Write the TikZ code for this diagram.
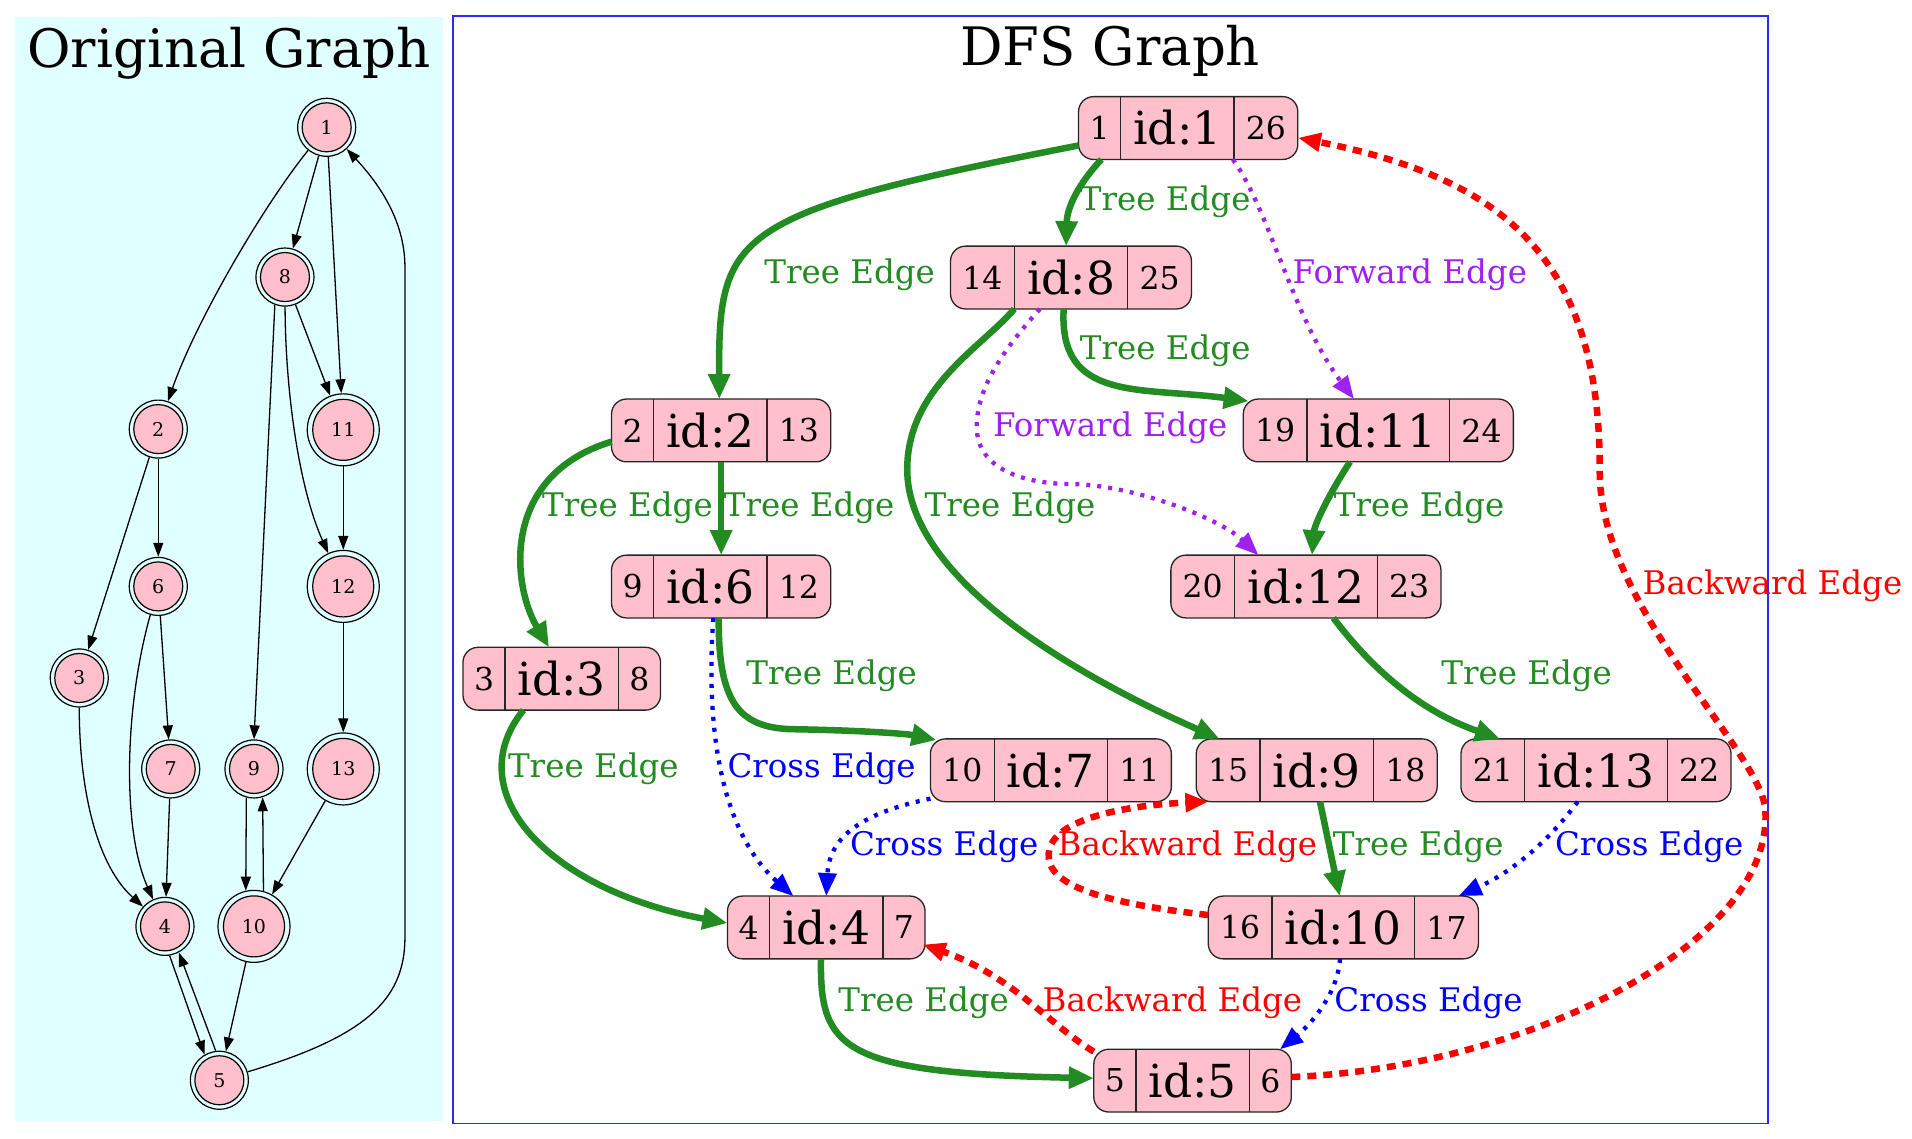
\documentclass[tikz,border=0pt]{standalone}
\usepackage{fontspec}
\setmainfont{DejaVu Serif}
\usetikzlibrary{arrows.meta}

\definecolor{treeg}{HTML}{228B22}
\definecolor{fwdp}{HTML}{A020F0}
\definecolor{crossb}{HTML}{0000FF}
\definecolor{backr}{HTML}{FF0000}
\definecolor{recpink}{HTML}{FFC0CB}
\definecolor{bgcyan}{HTML}{E0FFFF}
\definecolor{frameblue}{HTML}{2A2AFF}

\newcommand\titlefnt{\fontsize{53}{60}\selectfont}
\newcommand\lblfnt{\fontsize{32.5}{38}\selectfont}
\newcommand\smallfld{\fontsize{31.5}{36}\selectfont}
\newcommand\bigfld{\fontsize{45.5}{52}\selectfont}
\newcommand\onodefnt{\fontsize{19}{22}\selectfont}

\tikzset{
  recbox/.style={draw=black!85, line width=1.3pt, fill=recpink, rounded corners=15pt, inner sep=0pt, outer sep=0pt, minimum height=62.8pt},
  fld/.style={inner sep=0pt, outer sep=0pt, minimum height=62.8pt, font=\smallfld},
  recline/.style={draw=black!85, line width=1.3pt},
  lbl/.style={anchor=base, inner sep=0pt, font=\lblfnt},
  ttl/.style={anchor=base, inner sep=0pt, font=\titlefnt},
  treeE/.style={draw=treeg, line width=6.5pt, -{Triangle[length=25pt,width=21pt]}},
  fwdE/.style={draw=fwdp, line width=4.3pt, dash pattern=on 4pt off 7pt, -{Triangle[length=23pt,width=18pt]}},
  crossE/.style={draw=crossb, line width=4.3pt, dash pattern=on 4pt off 7pt, -{Triangle[length=23pt,width=18pt]}},
  backE/.style={draw=backr, line width=6.5pt, dash pattern=on 9pt off 7pt, -{Triangle[length=23pt,width=18pt]}},
  oE/.style={draw=black, line width=1.3pt, -{Triangle[length=14pt,width=10pt]}},
  onode/.style={circle, draw=black, line width=1.2pt, inner sep=0pt, minimum size=58pt},
  onodeL/.style={onode, minimum size=72pt},
  inode/.style={circle, draw=black, line width=1.2pt, fill=recpink, inner sep=0pt, minimum size=49pt, font=\onodefnt},
  inodeL/.style={inode, minimum size=61pt},
}

% record node: name, left x, centre y, w1, w2, w3, t1, t2, t3
\newcommand\recnode[9]{%
  \node[recbox, minimum width={(#4+#5+#6)*1.2194pt}] (#1) at ({#2+(#4+#5+#6)/2},#3) {};
  \node[fld, minimum width={#4*1.2194pt}] (#1a) at ({#2+#4/2},#3) {#7};
  \node[fld, font=\bigfld, minimum width={#5*1.2194pt}] (#1b) at ({#2+#4+#5/2},#3) {#8};
  \node[fld, minimum width={#6*1.2194pt}] (#1c) at ({#2+#4+#5+#6/2},#3) {#9};
  \draw[recline] (#1a.north east) -- (#1a.south east);
  \draw[recline] (#1b.north east) -- (#1b.south east);
}
% original graph node: name, x, y, label, inner style, outer style
\newcommand\orignode[6]{%
  \node[#5] (#1i) at (#2,#3) {#4};
  \node[#6] (#1) at (#2,#3) {};
}

\begin{document}
\begin{tikzpicture}[x=1.2194pt, y=-1.2194pt]
\path[use as bounding box, fill=white] (0,0) rectangle (1568,934);

% ---------- panels ----------
\fill[bgcyan] (12.3,14.3) rectangle (363.6,919.2);
\draw[frameblue, line width=1.3pt] (371.5,13.1) rectangle (1450,921.4);
\node[ttl] (t1) at (187.9,55.2) {Original Graph};
\node[ttl] (t2) at (910.5,53.7) {DFS Graph};

% ---------- original graph ----------
\orignode{o1}{267.9}{104.4}{1}{inode}{onode}
\orignode{o8}{233.7}{227.2}{8}{inode}{onode}
\orignode{o2}{129.8}{351.9}{2}{inode}{onode}
\orignode{o11}{281.5}{352.5}{11}{inodeL}{onodeL}
\orignode{o6}{129.8}{480.9}{6}{inode}{onode}
\orignode{o12}{281.5}{480.9}{12}{inodeL}{onodeL}
\orignode{o3}{65}{556}{3}{inode}{onode}
\orignode{o7}{140}{630.6}{7}{inode}{onode}
\orignode{o9}{208.3}{630.6}{9}{inode}{onode}
\orignode{o13}{281.5}{630.6}{13}{inodeL}{onodeL}
\orignode{o4}{135.3}{759.7}{4}{inode}{onode}
\orignode{o10}{208.3}{759.7}{10}{inodeL}{onodeL}
\orignode{o5}{179.9}{885.9}{5}{inode}{onode}

\draw[oE] (o1) .. controls (215,170) and (160,265) .. (o2);
\draw[oE] (o1) -- (o8);
\draw[oE] (o1) -- (o11);
\draw[oE] (o8) -- (o11);
\draw[oE] (o8.250) -- (o9.north);
\draw[oE] (o8) .. controls (234,320) and (245,400) .. (o12);
\draw[oE] (o2) -- (o3);
\draw[oE] (o2) -- (o6);
\draw[oE] (o11) -- (o12);
\draw[oE] (o6) -- (o7);
\draw[oE] (o6) .. controls (102,580) and (100,680) .. (o4);
\draw[oE] (o3) .. controls (65,650) and (80,710) .. (o4);
\draw[oE] (o12) -- (o13);
\draw[oE] (o7) -- (o4);
\draw[oE] (o9.255) -- (o10.103);
\draw[oE] (o10.75) -- (o9.287);
\draw[oE] (o13) -- (o10);
\draw[oE] (o4.279) -- (o5.120);
\draw[oE] (o5.97) -- (o4.298);
\draw[oE] (o10) -- (o5);
\draw[oE] (o5) .. controls (300,850) and (332,820) .. (332.1,768.6) -- (332.1,219.2) .. controls (332,180) and (310,150) .. (o1);

% ---------- DFS graph records ----------
\recnode{n1}{884.5}{105}{34.5}{93}{52.3}{1}{id:1}{26}
\recnode{n8}{779.5}{227.6}{52.3}{93}{52.3}{14}{id:8}{25}
\recnode{n2}{501.5}{353}{34.5}{93}{52.3}{2}{id:2}{13}
\recnode{n11}{1019.6}{353}{52.3}{116.9}{52.3}{19}{id:11}{24}
\recnode{n6}{501.5}{481}{34.5}{93}{52.3}{9}{id:6}{12}
\recnode{n12}{960.2}{481}{52.3}{116.9}{52.3}{20}{id:12}{23}
\recnode{n3}{379.7}{556.6}{34.5}{93}{34.5}{3}{id:3}{8}
\recnode{n7}{763}{631.7}{52.3}{93}{52.3}{10}{id:7}{11}
\recnode{n9}{981}{631.7}{52.3}{93}{52.3}{15}{id:9}{18}
\recnode{n13}{1198.1}{631.7}{52.3}{116.9}{52.3}{21}{id:13}{22}
\recnode{n4}{596.6}{760.6}{34.5}{93}{34.5}{4}{id:4}{7}
\recnode{n10}{990.9}{760.6}{52.3}{116.9}{52.3}{16}{id:10}{17}
\recnode{n5}{897}{886.2}{34.5}{93}{34.5}{5}{id:5}{6}

% ---------- tree edges ----------
\draw[treeE] ([shift={(0,14.3)}]n1.west) .. controls (600,175) and (589,190) .. ([shift={(-1.5,0)}]n2.north);
\draw[treeE] ([shift={(1.5,0)}]n1a.south) .. controls (885,150) and (875,170) .. ([shift={(-4,0)}]n8.north);
\draw[treeE] ([shift={(-6,0)}]n8.south) .. controls (868,330) and (935,317) .. ([shift={(4.4,1.7)}]n11.north west);
\draw[treeE] (n8a.south east) .. controls (805,285) and (744,318) .. (744,385) .. controls (744,480) and (900,562) .. ([shift={(-7,0)}]n9a.north);
\draw[treeE] ([shift={(0,9.2)}]n2.west) .. controls (410,390) and (420,480) .. ([shift={(-10.5,0)}]n3b.north);
\draw[treeE] (n2.south) -- (n6.north);
\draw[treeE] ([shift={(-2,0)}]n6.south) .. controls (589,575) and (605,597) .. (650,598) .. controls (710,599) and (745,602) .. ([shift={(5,1)}]n7.north west);
\draw[treeE] ([shift={(-31.5,0)}]n3.south) .. controls (375,650) and (450,730) .. ([shift={(0,-3.6)}]n4.west);
\draw[treeE] ([shift={(-4.3,0)}]n4.south) .. controls (672,860) and (690,880) .. ([shift={(0,-2)}]n5.west);
\draw[treeE] ([shift={(-23.2,0)}]n11.south) .. controls (1090,405) and (1078,430) .. ([shift={(5,0)}]n12.north);
\draw[treeE] ([shift={(22.5,0)}]n12.south) .. controls (1130,555) and (1170,585) .. ([shift={(32,0)}]n13.north west);
\draw[treeE] ([shift={(2.7,0)}]n9.south) -- ([shift={(-3,0)}]n10.north);

% ---------- forward edges ----------
\draw[fwdE] ([shift={(-1,0)}]n1c.south west) .. controls (1040,170) and (1060,260) .. ([shift={(-20,0)}]n11.north);
\draw[fwdE] ([shift={(-25.5,0)}]n8.south) .. controls (820,290) and (801,320) .. (801,350) .. controls (801,385) and (840,397) .. (880,397) .. controls (930,398) and (1000,425) .. ([shift={(19.5,0)}]n12b.north west);

% ---------- cross edges ----------
\draw[crossE] ([shift={(-6.4,0)}]n6.south) .. controls (577,620) and (600,690) .. ([shift={(-27,0)}]n4.north);
\draw[crossE] ([shift={(0,-2.5)}]n7.south west) .. controls (700,668) and (680,690) .. (n4.north);
\draw[crossE] ([shift={(-15,0)}]n13.south) .. controls (1270,690) and (1240,715) .. ([shift={(10,0)}]n10c.north);
\draw[crossE] ([shift={(-2.75,0)}]n10.south) .. controls (1097,815) and (1075,840) .. ([shift={(8,0)}]n5c.north);

% ---------- backward edges ----------
\draw[backE] ([shift={(0,-10.2)}]n10.west) .. controls (900,740) and (858,725) .. (860,700) .. controls (862,670) and (930,660) .. ([shift={(10,0)}]n9.south west);
\draw[backE] ([shift={(0,2)}]n5.north west) .. controls (860,840) and (830,800) .. ([shift={(-2,14)}]n4.east);
\draw[backE] ([shift={(0,-3)}]n5.east) .. controls (1250,876) and (1452,775) .. (1447.8,666.7) .. controls (1449,620) and (1312,500) .. (1311.9,387) .. controls (1313,205) and (1225,145) .. ([shift={(0,8)}]n1.east);

% ---------- edge labels ----------
\node[lbl, text=treeg] (l1) at (696.8,232.6) {Tree Edge};
\node[lbl, text=treeg] (l2) at (955.6,172.4) {Tree Edge};
\node[lbl, text=fwdp] (l3) at (1156.2,232.6) {Forward Edge};
\node[lbl, text=treeg] (l4) at (955.6,294.7) {Tree Edge};
\node[lbl, text=fwdp] (l5) at (910.5,358.1) {Forward Edge};
\node[lbl, text=treeg] (l6) at (828.3,423.2) {Tree Edge};
\node[lbl, text=treeg] (l7) at (514.6,423.2) {Tree Edge};
\node[lbl, text=treeg] (l8) at (663.6,423.2) {Tree Edge};
\node[lbl, text=treeg] (l9) at (1163.8,423.2) {Tree Edge};
\node[lbl, text=backr] (l10) at (1453.6,487.4) {Backward Edge};
\node[lbl, text=treeg] (l11) at (682,561.7) {Tree Edge};
\node[lbl, text=treeg] (l12) at (1252,561.7) {Tree Edge};
\node[lbl, text=treeg] (l13) at (486.6,637.5) {Tree Edge};
\node[lbl, text=crossb] (l14) at (673.8,637.5) {Cross Edge};
\node[lbl, text=crossb] (l15) at (774.3,701.8) {Cross Edge};
\node[lbl, text=backr] (l16) at (973.8,701.8) {Backward Edge};
\node[lbl, text=treeg] (l17) at (1163.1,701.8) {Tree Edge};
\node[lbl, text=crossb] (l18) at (1352.5,701.8) {Cross Edge};
\node[lbl, text=treeg] (l19) at (757.5,829.6) {Tree Edge};
\node[lbl, text=backr] (l20) at (961.5,829.6) {Backward Edge};
\node[lbl, text=crossb] (l21) at (1171.5,829.6) {Cross Edge};
\end{tikzpicture}
\end{document}
